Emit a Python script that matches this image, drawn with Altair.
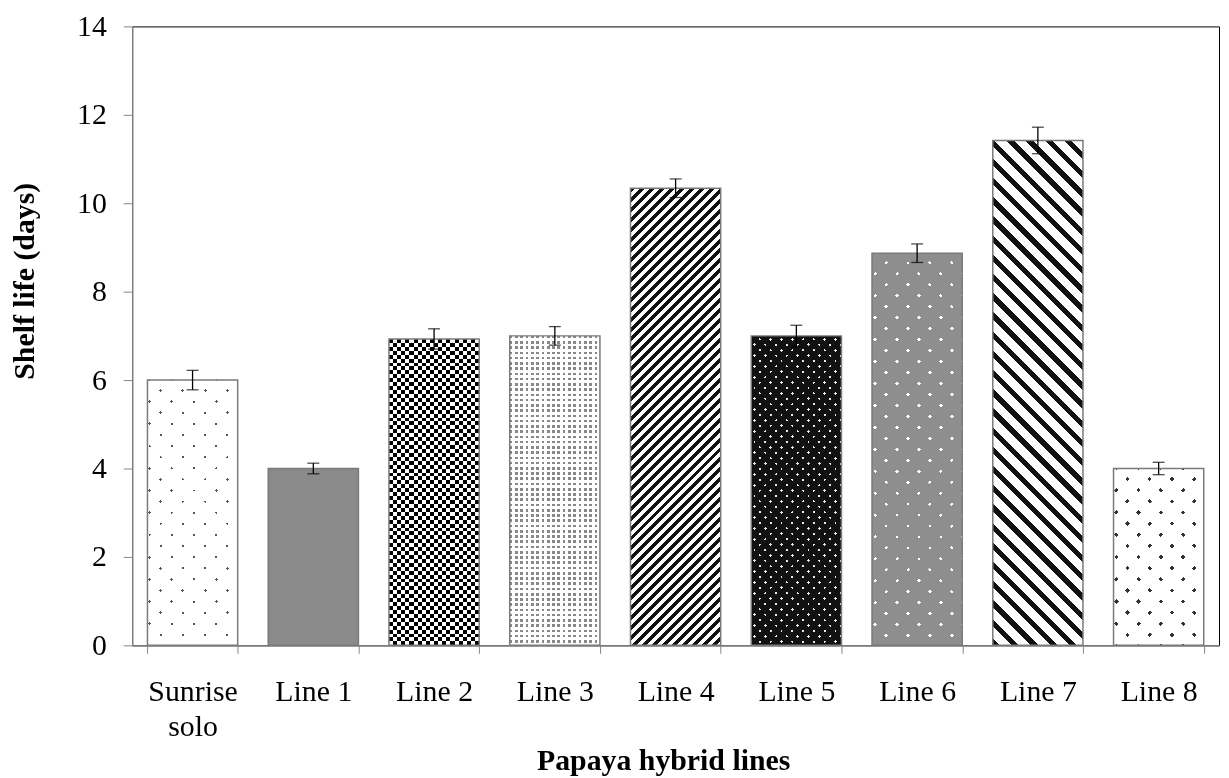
import altair as alt
import pandas as pd

# ---------------- data ----------------
lines = ["Sunrise solo", "Line 1", "Line 2", "Line 3", "Line 4",
         "Line 5", "Line 6", "Line 7", "Line 8"]
shelf_life = [6.0, 4.0, 6.93, 7.0, 10.34, 7.0, 8.87, 11.42, 4.0]
std_err = [0.22, 0.12, 0.23, 0.21, 0.21, 0.24, 0.21, 0.30, 0.14]
y_ticks = [0, 2, 4, 6, 8, 10, 12, 14]

df = pd.DataFrame({"line": lines, "days": shelf_life, "err": std_err})
df["lo"] = df["days"] - df["err"]
df["hi"] = df["days"] + df["err"]

# ---------------- layout / style ----------------
W, H = 1094, 623
Y_MAX = 14
PAD_INNER = 0.253
FONT = "Liberation Serif"
AXIS_GRAY = "#868686"
step = W / 9.0
BAR_W = step * (1 - PAD_INNER)
PPU = H / Y_MAX


def periodic_stops(n, f, c_on, c_off):
    stops = []
    for i in range(n):
        a = round(i / n, 6)
        b = round((i + f) / n, 6)
        c = round((i + 1) / n, 6)
        stops += [alt.GradientStop(offset=a, color=c_on),
                  alt.GradientStop(offset=b, color=c_on),
                  alt.GradientStop(offset=b, color=c_off),
                  alt.GradientStop(offset=c, color=c_off)]
    return stops


def stripes(direction, q, f, c_on, c_off, w, h):
    if direction == "v":
        n = max(1, round(w / q))
        coords = dict(x1=0, y1=0, x2=1, y2=0)
    elif direction == "h":
        n = max(1, round(h / q))
        coords = dict(x1=0, y1=0, x2=0, y2=1)
    else:
        k = (w + h) / (w * w + h * h)
        n = max(1, round((w + h) / q))
        if direction == "/":
            coords = dict(x1=0, y1=0, x2=k * w, y2=k * h)
        else:  # "\\"
            coords = dict(x1=0, y1=1, x2=k * w, y2=1 - k * h)
    return alt.LinearGradient(gradient="linear",
                              stops=periodic_stops(n, f, c_on, c_off),
                              **coords)


# pattern styles per bar: list of (direction, period, fraction, on, off, blend)
patterns = {
    "Sunrise solo": [("/", 21.7, 0.13, "#555555", "#ffffff", None),
                     ("\\", 21.7, 0.13, "#555555", "#ffffff", "lighten")],
    "Line 1": "#8a8a8a",
    "Line 2": [("v", 8, 0.5, "#000000", "#ffffff", None),
               ("h", 8, 0.5, "#000000", "#ffffff", "difference")],
    "Line 3": [("v", 5.3, 0.5, "#888888", "#ffffff", None),
               ("h", 5.3, 0.5, "#888888", "#ffffff", "lighten")],
    "Line 4": [("/", 10, 0.5, "#111111", "#ffffff", None)],
    "Line 5": [("/", 11, 0.25, "#e8e8e8", "#111111", None),
               ("\\", 11, 0.25, "#e8e8e8", "#111111", "darken")],
    "Line 6": [("/", 21.7, 0.17, "#ffffff", "#8e8e8e", None),
               ("\\", 21.7, 0.17, "#ffffff", "#8e8e8e", "darken")],
    "Line 7": [("\\", 19.5, 0.38, "#111111", "#ffffff", None)],
    "Line 8": [("/", 21.7, 0.2, "#333333", "#ffffff", None),
               ("\\", 21.7, 0.2, "#333333", "#ffffff", "lighten")],
}

x_enc = alt.X(
    "line:N", sort=lines,
    scale=alt.Scale(paddingInner=PAD_INNER, paddingOuter=PAD_INNER / 2),
    axis=alt.Axis(
        title="Papaya hybrid lines", labelAngle=0,
        labelExpr="datum.value == 'Sunrise solo' ? ['Sunrise', 'solo'] : datum.value",
        labelFont=FONT, labelFontSize=30, labelColor="black",
        labelLineHeight=35, labelPadding=24, labelBaseline="top",
        tickBand="extent", tickSize=8, tickColor=AXIS_GRAY,
        domainColor=AXIS_GRAY, domainWidth=1.2,
        titleFont=FONT, titleFontSize=30, titleFontWeight="bold",
        titleColor="black", titleAlign="left", titleBaseline="alphabetic",
        titleX=407, titleY=125,
    ),
)


def y_enc(field):
    return alt.Y(
        f"{field}:Q",
        scale=alt.Scale(domain=[0, Y_MAX], nice=False, zero=True),
        axis=alt.Axis(
            title="Shelf life (days)", values=y_ticks, grid=False,
            labelFont=FONT, labelFontSize=30, labelColor="black",
            labelPadding=17, tickSize=9, tickColor=AXIS_GRAY,
            domainColor=AXIS_GRAY, domainWidth=1.2,
            titleFont=FONT, titleFontSize=30, titleFontWeight="bold",
            titleColor="black", titleAngle=270, titleAlign="center",
            titleBaseline="alphabetic", titleX=-99.5, titleY=256,
        ),
    )


base = alt.Chart(df)
layers = []
for name, val in zip(lines, shelf_life):
    spec = patterns[name]
    sub = base.transform_filter(alt.datum.line == name)
    if isinstance(spec, str):
        layers.append(sub.mark_bar(fill=spec, strokeWidth=0)
                      .encode(x=x_enc, y=y_enc("days")))
        continue
    h = val * PPU
    for (d, q, f, on, off, blend) in spec:
        grad = stripes(d, q, f, on, off, BAR_W, h)
        kw = dict(fill=grad, strokeWidth=0)
        if blend:
            kw["blend"] = blend
        layers.append(sub.mark_bar(**kw).encode(x=x_enc, y=y_enc("days")))

outline = base.mark_bar(fillOpacity=0, fill="white", stroke="#7a7a7a",
                        strokeWidth=1.5).encode(x=x_enc, y=y_enc("days"))
err_rule = base.mark_rule(color="black", strokeWidth=1.3).encode(
    x=x_enc, y=y_enc("lo"), y2="hi:Q")
cap_hi = base.mark_tick(color="black", thickness=1.3, size=12).encode(
    x=x_enc, y=y_enc("hi"))
cap_lo = base.mark_tick(color="black", thickness=1.3, size=12).encode(
    x=x_enc, y=y_enc("lo"))

chart = alt.layer(*layers, outline, err_rule, cap_hi, cap_lo).properties(
    width=W, height=H,
    autosize="none",
    padding={"left": 125, "top": 16, "right": 2, "bottom": 131},
    background="white",
).configure_view(stroke="black", strokeWidth=1)

chart.save("out.html", embed_options={"renderer": "svg", "actions": False})
